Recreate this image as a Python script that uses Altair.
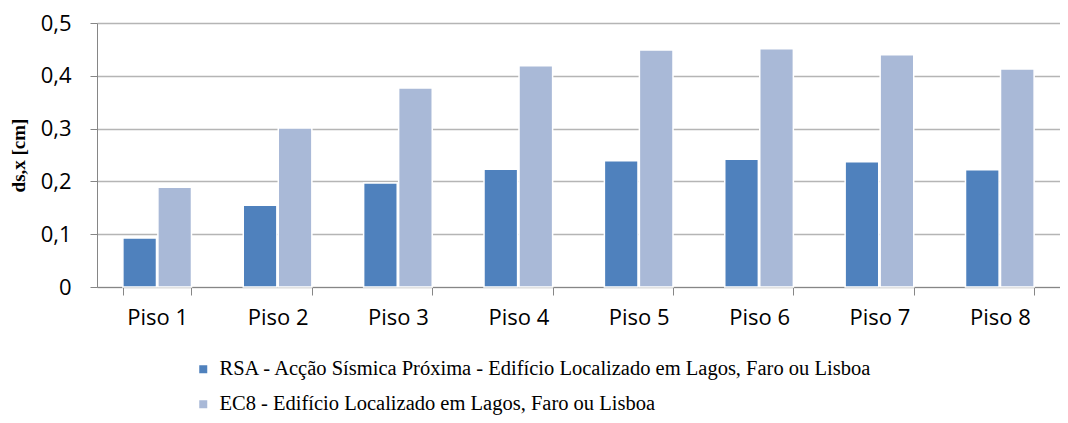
import altair as alt
import pandas as pd

pisos = ["Piso 1", "Piso 2", "Piso 3", "Piso 4", "Piso 5", "Piso 6", "Piso 7", "Piso 8"]
rsa = [0.093, 0.155, 0.197, 0.223, 0.239, 0.242, 0.237, 0.222]
ec8 = [0.189, 0.301, 0.377, 0.419, 0.449, 0.451, 0.440, 0.413]
series = ["RSA - Acção Sísmica Próxima - Edifício Localizado em Lagos, Faro ou Lisboa",
          "EC8 - Edifício Localizado em Lagos, Faro ou Lisboa"]
colors = ["#4F81BD", "#A9B9D7"]

rows = []
for p, a, b in zip(pisos, rsa, ec8):
    rows.append({"piso": p, "serie": series[0], "v": a})
    rows.append({"piso": p, "serie": series[1], "v": b})
df = pd.DataFrame(rows)

chart = alt.Chart(df).mark_bar(stroke="white", strokeWidth=1.5).encode(
    x=alt.X("piso:N", sort=pisos, title=None,
            scale=alt.Scale(paddingInner=0.43, paddingOuter=0.215),
            axis=alt.Axis(labelAngle=0, labelFont="Open Sans", labelFontSize=22, labelColor="#000",
                          labelPadding=12, domainColor="#868686", tickColor="#868686",
                          tickBand="extent", tickSize=8, grid=False)),
    xOffset=alt.XOffset("serie:N", sort=series, scale=alt.Scale(paddingInner=0.04)),
    y=alt.Y("v:Q", title="ds,x [cm]",
            scale=alt.Scale(domain=[0, 0.5], nice=False),
            axis=alt.Axis(values=[0, 0.1, 0.2, 0.3, 0.4, 0.5],
                          labelExpr="datum.value == 0 ? '0' : replace(format(datum.value, '.1f'), '.', ',')",
                          labelFont="Open Sans", labelFontSize=22, labelColor="#000", labelPadding=19,
                          domainColor="#868686", tickColor="#868686", tickSize=7,
                          gridColor="#B5B5B5", gridWidth=1.5,
                          titleFont="Liberation Serif", titleFontSize=19, titleFontWeight="bold",
                          titleColor="#000", titlePadding=12)),
    color=alt.Color("serie:N", sort=series, scale=alt.Scale(domain=series, range=colors),
                    legend=alt.Legend(title=None, orient="none", legendX=96, legendY=336,
                                      direction="vertical", symbolType="square", symbolSize=64,
                                      symbolStrokeWidth=0, labelFont="Liberation Serif",
                                      labelFontSize=20.5, labelColor="#000", rowPadding=14,
                                      labelOffset=6, labelLimit=0)),
).properties(
    width=963, height=264,
    autosize=alt.AutoSizeParams(type="none"),
    padding={"left": 89, "top": 15, "right": 0, "bottom": 128},
).configure_view(stroke=None).configure_legend(labelFont="Liberation Serif", labelLimit=0)

chart.save("out.html", embed_options={"renderer": "svg", "actions": False})
